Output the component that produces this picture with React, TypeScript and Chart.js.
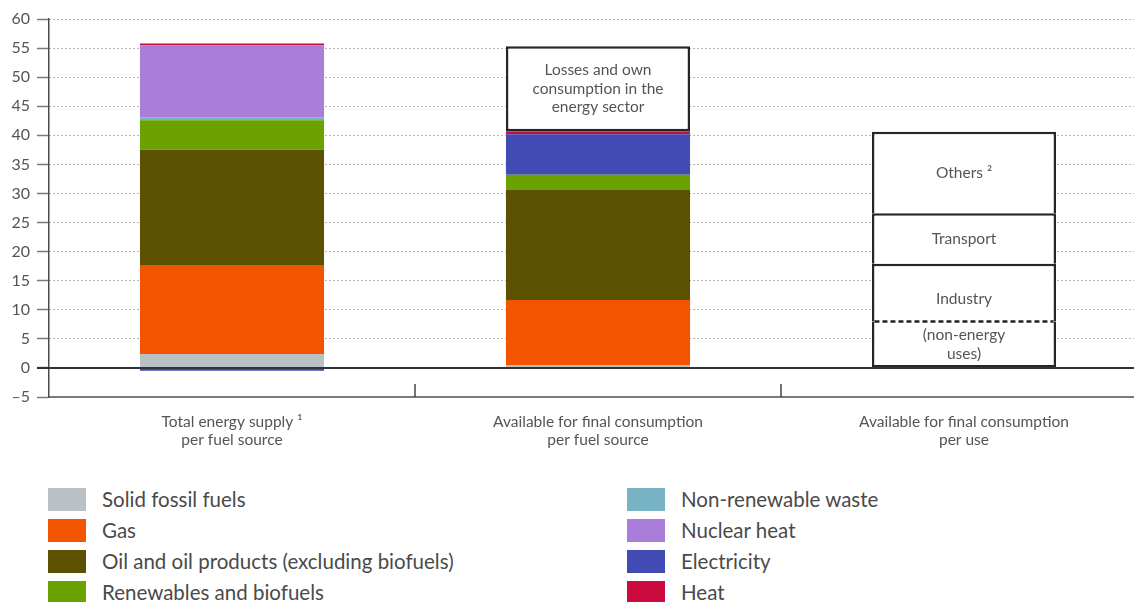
import React, { useEffect, useRef } from 'react';
import { Chart, registerables } from 'chart.js';

Chart.register(...registerables);

// ---------- data ----------
const categories: string[][] = [
  ['Total energy supply \u00B9', 'per fuel source'],
  ['Available for final consumption', 'per fuel source'],
  ['Available for final consumption', 'per use'],
];

const fuelNames = [
  'Solid fossil fuels',
  'Gas',
  'Oil and oil products (excluding biofuels)',
  'Renewables and biofuels',
  'Non-renewable waste',
  'Nuclear heat',
  'Electricity',
  'Heat',
];
const fuelColors = ['#b9c1c4', '#f25400', '#5b5100', '#6ba100', '#78b3c3', '#aa7dda', '#414bb3', '#cc0a3d'];

const solidFossil = [2.4, 0.5, null];
const gas = [15.3, 11.2, null];
const oil = [19.8, 18.9, null];
const renewables = [5.1, 2.6, null];
const waste = [0.5, 0, null];
const nuclear = [12.4, 0, null];
const electricity = [-0.5, 7.0, null];
const heat = [0.3, 0.5, null];
const fuelValues = [solidFossil, gas, oil, renewables, waste, nuclear, electricity, heat];

const losses = [null, 14.6, null];
const nonEnergy = [null, null, 8.0];
const industry = [null, null, 9.9];
const transport = [null, null, 8.7];
const others = [null, null, 14.0];

const boxNames = ['Losses', 'Non-energy uses', 'Industry', 'Transport', 'Others'];
const boxValues = [losses, nonEnergy, industry, transport, others];
const boxTexts: string[][] = [
  ['Losses and own', 'consumption in the', 'energy sector'],
  ['(non-energy', 'uses)'],
  ['Industry'],
  ['Transport'],
  ['Others \u00B2'],
];
const boxTextOffset = [0, 0, 6, 0, 0];

const yTicks = { min: -5, max: 60, step: 5 };

const FONT = 'Lato, "Open Sans", sans-serif';
const TEXT = '#555555';
const BW = 2.5;

export default function App() {
  const ref = useRef<HTMLCanvasElement | null>(null);

  useEffect(() => {
    document.body.style.margin = '0';
    const canvas = ref.current;
    if (!canvas) return;

    const fuelSets = fuelNames.map((name, i) => ({
      label: name,
      data: fuelValues[i],
      backgroundColor: fuelColors[i],
      borderWidth: 0,
      stack: 's',
    }));

    const boxSets = boxNames.map((name, i) => {
      let bw: any = { top: BW, left: BW, right: BW, bottom: 0 };
      if (name === 'Losses') bw = { top: BW, left: BW, right: BW, bottom: BW };
      if (name === 'Non-energy uses') bw = { top: 0, left: BW, right: BW, bottom: BW };
      return {
        label: name,
        data: boxValues[i],
        backgroundColor: '#ffffff',
        borderColor: '#262626',
        borderWidth: bw,
        borderSkipped: false,
        stack: 's',
        isBox: true,
        texts: boxTexts[i],
        textOffset: boxTextOffset[i],
      };
    });

    const overlay = {
      id: 'overlay',
      afterDatasetsDraw(chart: any) {
        const { ctx, chartArea, scales } = chart;
        const y0 = scales.y.getPixelForValue(0);
        ctx.save();
        // zero line
        ctx.strokeStyle = '#333333';
        ctx.lineWidth = 2;
        ctx.beginPath();
        ctx.moveTo(chartArea.left - 12, y0);
        ctx.lineTo(chartArea.right, y0);
        ctx.stroke();

        // category dividers at bottom
        const xs = scales.x;
        ctx.strokeStyle = '#444444';
        ctx.lineWidth = 1.5;
        for (let i = 1; i < categories.length; i++) {
          const x = (xs.getPixelForValue(i - 1) + xs.getPixelForValue(i)) / 2;
          ctx.beginPath();
          ctx.moveTo(x, chartArea.bottom);
          ctx.lineTo(x, chartArea.bottom - 13);
          ctx.stroke();
        }

        // box texts + dashed line
        chart.data.datasets.forEach((ds: any, di: number) => {
          if (!ds.isBox) return;
          const meta = chart.getDatasetMeta(di);
          meta.data.forEach((el: any, j: number) => {
            if (ds.data[j] == null) return;
            const cx = el.x;
            const cy = (el.y + el.base) / 2 + (ds.textOffset || 0);
            ctx.fillStyle = TEXT;
            ctx.font = '15.5px ' + FONT;
            ctx.textAlign = 'center';
            ctx.textBaseline = 'middle';
            const lh = 18.5;
            const n = ds.texts.length;
            ds.texts.forEach((t: string, k: number) => {
              ctx.fillText(t, cx, cy + (k - (n - 1) / 2) * lh);
            });
            if (ds.label === 'Non-energy uses') {
              ctx.strokeStyle = '#222222';
              ctx.lineWidth = 2.5;
              ctx.setLineDash([5, 3]);
              ctx.beginPath();
              ctx.moveTo(el.x - el.width / 2 + BW, el.y);
              ctx.lineTo(el.x + el.width / 2 - BW, el.y);
              ctx.stroke();
              ctx.setLineDash([]);
            }
          });
        });
        ctx.restore();
      },
    };

    const chart = new Chart(canvas, {
      type: 'bar',
      data: {
        labels: categories,
        datasets: [...fuelSets, ...boxSets] as any,
      },
      options: {
        animation: false,
        responsive: false,
        devicePixelRatio: 1,
        layout: { padding: { top: 19, right: 3, left: 0, bottom: 0 } },
        datasets: { bar: { categoryPercentage: 1, barPercentage: 0.503 } },
        plugins: { legend: { display: false }, tooltip: { enabled: false } },
        scales: {
          x: {
            stacked: true,
            grid: { display: false },
            border: { display: true, color: '#7a7a7a', width: 2 },
            ticks: {
              color: TEXT,
              font: { family: FONT, size: 15.5, lineHeight: 1.18 },
              padding: 8,
              maxRotation: 0,
              autoSkip: false,
            },
            afterFit: (s: any) => {
              s.height = 460 - 397;
            },
          },
          y: {
            stacked: true,
            min: yTicks.min,
            max: yTicks.max,
            grid: {
              color: '#808080',
              lineWidth: 1,
              tickLength: 12,
              tickColor: '#7a7a7a',
              tickWidth: 1.5,
              tickBorderDash: [],
            } as any,
            border: { display: true, color: '#4a4a4a', width: 1.5, dash: [1.2, 2.8] },
            ticks: {
              stepSize: yTicks.step,
              color: TEXT,
              padding: 7,
              font: { family: FONT, size: 16 },
              callback: (v: any) => String(v).replace('-', '\u2013'),
            },
            afterFit: (s: any) => {
              s.width = 49;
            },
          },
        },
      },
      plugins: [overlay],
    });

    return () => chart.destroy();
  }, []);

  const rows = 4;
  return (
    <div style={{ position: 'relative', width: 1134, height: 602, overflow: 'hidden', fontFamily: FONT }}>
      <canvas ref={ref} width={1150} height={460} style={{ width: 1150, height: 460, display: 'block' }} />
      {fuelNames.map((name, i) => {
        const col = Math.floor(i / rows);
        const row = i % rows;
        return (
          <div
            key={name}
            style={{
              position: 'absolute',
              left: col === 0 ? 48 : 627,
              top: 488 + row * 31,
              height: 23,
              display: 'flex',
              alignItems: 'center',
              whiteSpace: 'nowrap',
            }}
          >
            <div style={{ width: 38, height: 23, background: fuelColors[i], marginRight: 16, flex: 'none' }} />
            <span style={{ fontSize: 20.5, color: '#4a4a4a', position: 'relative', top: -1 }}>{name}</span>
          </div>
        );
      })}
    </div>
  );
}
